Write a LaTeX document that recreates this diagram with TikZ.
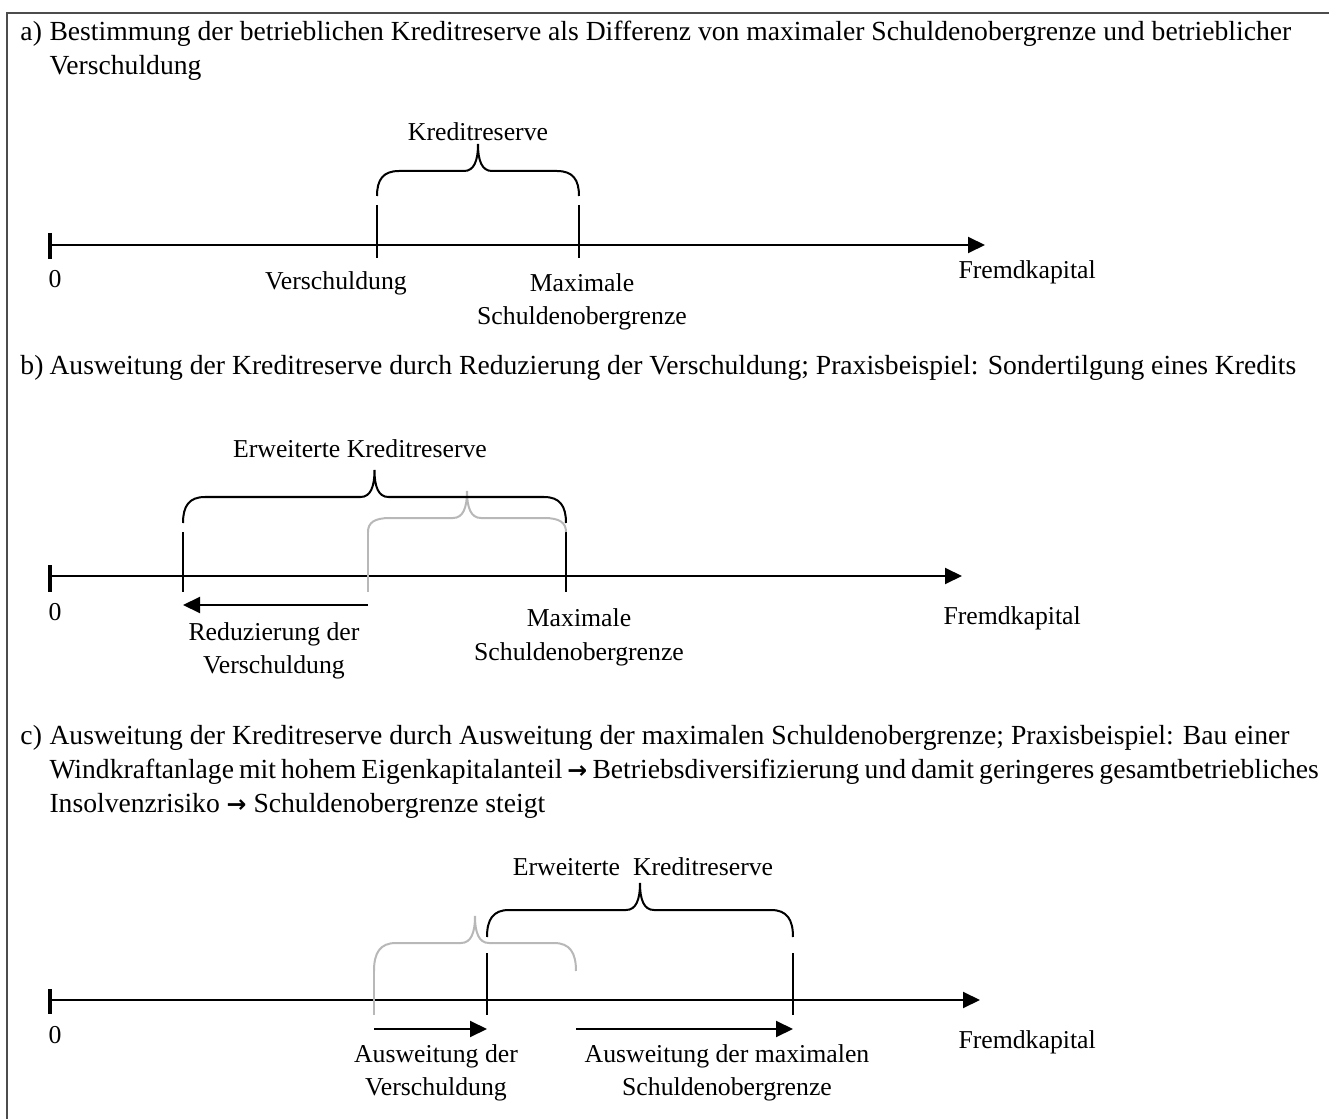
\documentclass[tikz,border=0pt]{standalone}
\usepackage{fontspec}
\setmainfont{Liberation Serif}
\newfontfamily\pfeilfont{DejaVu Sans}
\usetikzlibrary{arrows.meta}

\tikzset{
  achse/.style={line width=0.8pt, -{Triangle[length=6.8pt,width=6.4pt]}},
  pfeil/.style={line width=0.8pt, -{Triangle[length=6.8pt,width=6.4pt]}},
  strich/.style={line width=0.8pt},
  nullstrich/.style={line width=1.3pt},
  grau/.style={draw=black!28},
  absatz/.style={anchor=base west, inner sep=0pt, font=\fontsize{11.05}{13.6}\selectfont},
  beschr/.style={anchor=base, inner sep=0pt, align=center, font=\fontsize{10.3}{13.2}\selectfont},
  achstext/.style={anchor=base west, inner sep=0pt, font=\fontsize{10.3}{13.2}\selectfont},
}

% geschweifte Klammer: #1 Stil, #2 links, #3 rechts, #4 y oben (flach), #5 y unten
\newcommand{\klammer}[5]{%
  \draw[line width=0.8pt,#1] (#2,#5) .. controls (#2,{#4+(#5-#4)*0.35}) and (#2+6,#4) .. (#2+22,#4)
     -- ({(#2+#3)/2-14},#4) .. controls ({(#2+#3)/2-4},#4) and ({(#2+#3)/2},#4-10) .. ({(#2+#3)/2},#4-27)
     .. controls ({(#2+#3)/2},#4-10) and ({(#2+#3)/2+4},#4) .. ({(#2+#3)/2+14},#4)
     -- (#3-22,#4) .. controls (#3-6,#4) and (#3,{#4+(#5-#4)*0.35}) .. (#3,#5);
}
\newcommand{\textpfeil}{{\pfeilfont\bfseries\fontsize{9.5}{13}\selectfont →}}

\begin{document}
\begin{tikzpicture}[x=0.4pt,y=-0.4pt]
    \useasboundingbox (0,0) rectangle (1329,1119);
    % Rahmen
    \draw[line width=0.8pt, black!70] (7,1119) -- (7,13) -- (1329,13);

    % ---------- a) ----------
    \node[absatz] (ta) at (20,41) {a)};
    \node[absatz] (ta1) at (49,41) {Bestimmung der betrieblichen Kreditreserve als Differenz von maximaler Schuldenobergrenze und betrieblicher};
    \node[absatz] (ta2) at (49,75) {Verschuldung};
    % Achse
    \draw[achse] (50,245) -- (985,245);
    \draw[nullstrich] (50,233) -- (50,259);
    \draw[strich] (377,205) -- (377,258);
    \draw[strich] (579,205) -- (579,258);
    \klammer{}{377}{579}{171}{196}
    \node[beschr] (aReserve) at (478,141) {Kreditreserve};
    \node[beschr] (aNull) at (55,288) {0};
    \node[beschr] (aVer) at (336,290) {Verschuldung};
    \node[beschr] (aMax) at (582,325) {Maximale\\Schuldenobergrenze};
    \node[achstext] (aFremd) at (958,279) {Fremdkapital};

    % ---------- b) ----------
    \node[absatz] (tb) at (20,374) {b)};
    \node[absatz] (tb1) at (49,374) {Ausweitung der Kreditreserve durch Reduzierung der Verschuldung; Praxisbeispiel: Sondertilgung eines Kredits};
    % Achse
    \draw[achse] (50,576) -- (962,576);
    \draw[nullstrich] (50,565) -- (50,592);
    \draw[strich] (183,532) -- (183,592);
    \draw[strich, grau] (368,532) -- (368,592);
    \draw[strich] (566,532) -- (566,592);
    \klammer{grau}{368}{566}{518}{532}
    \klammer{}{183}{566}{497}{523}
    \coordinate (bAlt) at (368,605);
    \coordinate (bNeu) at (183,605);
    \draw[pfeil] (bAlt) -- (bNeu);
    \node[beschr] (bReserve) at (360,458) {Erweiterte Kreditreserve};
    \node[beschr] (bNull) at (55,620) {0};
    \node[beschr] (bRed) at (274,673) {Reduzierung der\\Verschuldung};
    \node[beschr] (bMax) at (579,660) {Maximale\\Schuldenobergrenze};
    \node[achstext] (bFremd) at (943,625) {Fremdkapital};

    % ---------- c) ----------
    \node[absatz] (tc) at (20,744) {c)};
    \node[absatz] (tc1) at (49,744) {Ausweitung der Kreditreserve durch Ausweitung der maximalen Schuldenobergrenze; Praxisbeispiel: Bau einer};
    \node[absatz] (tc2) at (49,778) {\spaceskip=2.05pt plus 1pt Windkraftanlage mit hohem Eigenkapitalanteil \textpfeil{} Betriebsdiversifizierung und damit geringeres gesamtbetriebliches};
    \node[absatz] (tc3) at (49,812) {Insolvenzrisiko \textpfeil{} Schuldenobergrenze steigt};
    % Achse
    \draw[achse] (50,1000) -- (980,1000);
    \draw[nullstrich] (50,989) -- (50,1014);
    \draw[strich, grau] (374,971) -- (374,1015);
    \draw[strich] (487,953) -- (487,1015);
    \draw[strich] (793,953) -- (793,1015);
    \klammer{grau}{374}{576}{943}{971}
    \klammer{}{487}{793}{910}{937}
    \coordinate (cVerAlt) at (374,1029);
    \coordinate (cVerNeu) at (487,1029);
    \coordinate (cMaxAlt) at (576,1029);
    \coordinate (cMaxNeu) at (793,1029);
    \draw[pfeil] (cVerAlt) -- (cVerNeu);
    \draw[pfeil] (cMaxAlt) -- (cMaxNeu);
    \node[beschr] (cReserve) at (643,875) {Erweiterte~ Kreditreserve};
    \node[beschr] (cNull) at (55,1043) {0};
    \node[beschr] (cVer) at (436,1095) {Ausweitung der\\Verschuldung};
    \node[beschr] (cMax) at (727,1095) {Ausweitung der maximalen\\Schuldenobergrenze};
    \node[achstext] (cFremd) at (958,1048) {Fremdkapital};
\end{tikzpicture}
\end{document}
